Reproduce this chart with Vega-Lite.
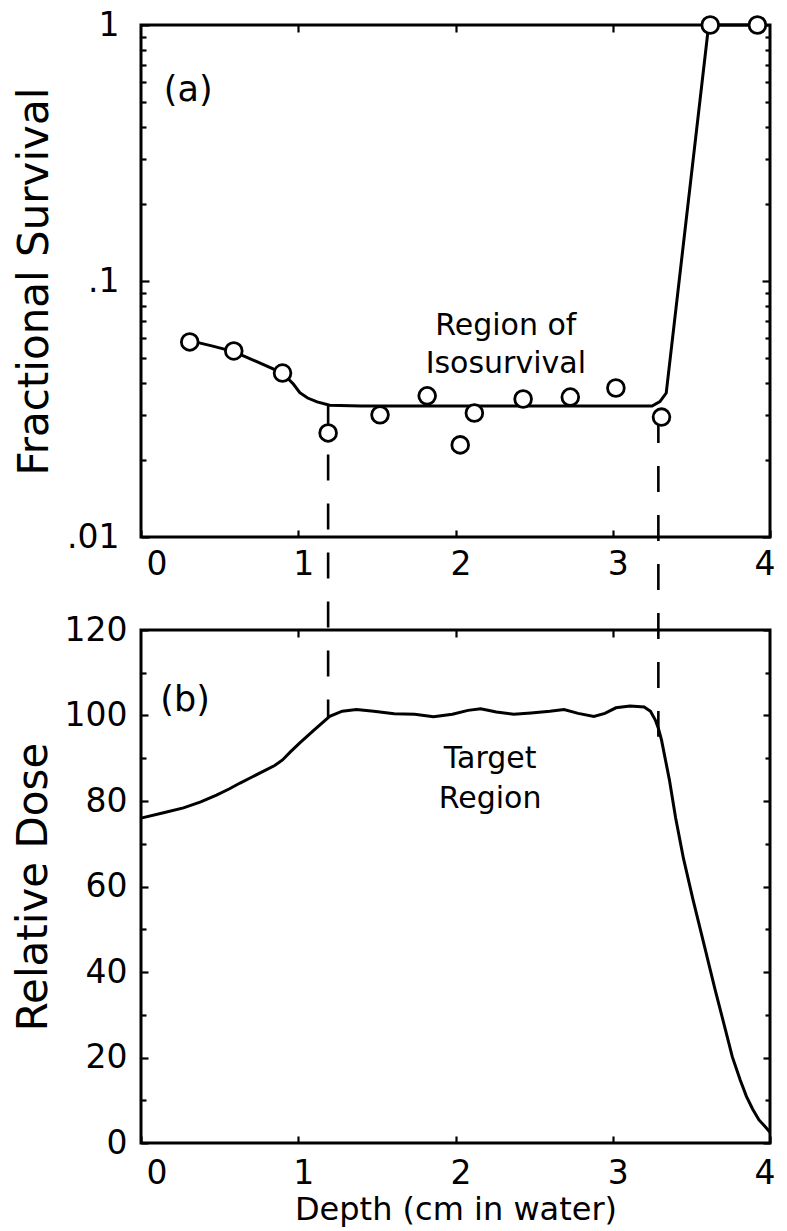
{
  "$schema": "https://vega.github.io/schema/vega-lite/v6.json",
  "background": "white",
  "autosize": {"type": "none"},
  "padding": {"left": 141, "top": 25, "right": 646, "bottom": 1206},
  "config": {
    "view": {"stroke": "black", "strokeWidth": 3},
    "font": "DejaVu Sans",
    "axis": {
      "domain": false, "grid": false, "tickColor": "black", "tickWidth": 2.2,
      "labelColor": "black", "titleColor": "black",
      "labelFont": "DejaVu Sans", "titleFont": "DejaVu Sans",
      "labelFontSize": 33, "titleFontSize": 42, "titleFontWeight": "normal"
    },
    "text": {"font": "DejaVu Sans", "fontSize": 30, "color": "black"}
  },
  "datasets": {
    "fit": [
      {"depth": 0.31, "surv": 0.0585}, {"depth": 0.45, "surv": 0.0558}, {"depth": 0.59, "surv": 0.053},
      {"depth": 0.74, "surv": 0.0483}, {"depth": 0.9, "surv": 0.0437}, {"depth": 0.97, "surv": 0.0395},
      {"depth": 1.01, "surv": 0.0366}, {"depth": 1.06, "surv": 0.0349}, {"depth": 1.12, "surv": 0.0337},
      {"depth": 1.2, "surv": 0.0327}, {"depth": 1.4, "surv": 0.0325}, {"depth": 3.25, "surv": 0.0325},
      {"depth": 3.3, "surv": 0.0338}, {"depth": 3.34, "surv": 0.0365}, {"depth": 3.61, "surv": 1.0},
      {"depth": 3.92, "surv": 1.0}
    ],
    "pts": [
      {"depth": 0.31, "surv": 0.0578}, {"depth": 0.59, "surv": 0.0533}, {"depth": 0.9, "surv": 0.0437},
      {"depth": 1.19, "surv": 0.0255}, {"depth": 1.52, "surv": 0.03}, {"depth": 1.82, "surv": 0.0356},
      {"depth": 2.03, "surv": 0.0229}, {"depth": 2.12, "surv": 0.0305}, {"depth": 2.43, "surv": 0.0346},
      {"depth": 2.73, "surv": 0.0352}, {"depth": 3.02, "surv": 0.0382}, {"depth": 3.31, "surv": 0.0294},
      {"depth": 3.62, "surv": 1.0}, {"depth": 3.92, "surv": 1.0}
    ],
    "guides": [
      {"depth": 1.19, "from": 0.0326, "to": 0.00198},
      {"depth": 3.29, "from": 0.0294, "to": 0.00166}
    ],
    "dose": [
      {"depth": 0.0, "dose": 76.0}, {"depth": 0.15, "dose": 77.3}, {"depth": 0.27, "dose": 78.4},
      {"depth": 0.38, "dose": 79.8}, {"depth": 0.48, "dose": 81.4}, {"depth": 0.56, "dose": 82.8},
      {"depth": 0.63, "dose": 84.2}, {"depth": 0.7, "dose": 85.5}, {"depth": 0.78, "dose": 87.0},
      {"depth": 0.85, "dose": 88.3}, {"depth": 0.9, "dose": 89.6}, {"depth": 0.95, "dose": 91.5},
      {"depth": 1.01, "dose": 93.6}, {"depth": 1.1, "dose": 96.6}, {"depth": 1.2, "dose": 99.8},
      {"depth": 1.28, "dose": 101.0}, {"depth": 1.37, "dose": 101.4}, {"depth": 1.48, "dose": 101.0},
      {"depth": 1.61, "dose": 100.4}, {"depth": 1.74, "dose": 100.3}, {"depth": 1.86, "dose": 99.7},
      {"depth": 1.98, "dose": 100.3}, {"depth": 2.08, "dose": 101.2}, {"depth": 2.16, "dose": 101.6},
      {"depth": 2.26, "dose": 100.8}, {"depth": 2.37, "dose": 100.3}, {"depth": 2.48, "dose": 100.6},
      {"depth": 2.6, "dose": 101.0}, {"depth": 2.69, "dose": 101.4}, {"depth": 2.78, "dose": 100.5},
      {"depth": 2.88, "dose": 99.8}, {"depth": 2.95, "dose": 100.5}, {"depth": 3.02, "dose": 101.8},
      {"depth": 3.11, "dose": 102.2}, {"depth": 3.2, "dose": 102.0}, {"depth": 3.24, "dose": 101.0},
      {"depth": 3.27, "dose": 99.0}, {"depth": 3.29, "dose": 97.0}, {"depth": 3.31, "dose": 94.3},
      {"depth": 3.36, "dose": 85.0}, {"depth": 3.4, "dose": 76.0}, {"depth": 3.45, "dose": 66.5},
      {"depth": 3.51, "dose": 57.0}, {"depth": 3.58, "dose": 46.5}, {"depth": 3.65, "dose": 36.0},
      {"depth": 3.72, "dose": 26.0}, {"depth": 3.76, "dose": 20.2}, {"depth": 3.81, "dose": 14.8},
      {"depth": 3.85, "dose": 10.9}, {"depth": 3.89, "dose": 7.9}, {"depth": 3.93, "dose": 5.4},
      {"depth": 3.97, "dose": 3.8}, {"depth": 4.0, "dose": 2.5}
    ],
    "labA": [{"depth": 0.3, "surv": 0.557, "txt": "(a)"}],
    "labIso": [
      {"depth": 2.32, "surv": 0.0615, "txt": "Region of"},
      {"depth": 2.32, "surv": 0.0437, "txt": "Isosurvival"}
    ],
    "labB": [{"depth": 0.28, "dose": 103.6, "txt": "(b)"}],
    "labT1": [{"depth": 2.22, "dose": 87.7, "txt": "Target"}],
    "labT2": [{"depth": 2.22, "dose": 78.4, "txt": "Region"}]
  },
  "bounds": "flush",
  "spacing": 93,
  "vconcat": [
    {
      "width": 629,
      "height": 512,
      "resolve": {"axis": {"x": "independent", "y": "independent"}},
      "layer": [
        {
          "data": {"name": "guides"},
          "mark": {"type": "rule", "strokeWidth": 2.6, "color": "black", "strokeDash": [26, 23]},
          "encoding": {
            "x": {"field": "depth", "type": "quantitative",
                  "scale": {"domain": [0, 4], "nice": false, "zero": false},
                  "axis": {"orient": "bottom", "values": [0, 1, 2, 3, 4], "tickSize": -7, "labelPadding": 18, "labelOffset": 5, "title": null}},
            "y": {"field": "from", "type": "quantitative",
                  "scale": {"type": "log", "domain": [0.01, 1], "nice": false},
                  "axis": {"orient": "left", "values": [0.01, 0.1, 1], "tickSize": -8, "labelPadding": 30,
                           "labelExpr": "datum.value >= 0.5 ? '1' : datum.value >= 0.05 ? '.1' : '.01'",
                           "title": "Fractional Survival", "titlePadding": 10}},
            "y2": {"field": "to"}
          }
        },
        {
          "data": {"name": "fit"},
          "mark": {"type": "line", "strokeWidth": 3, "color": "black"},
          "encoding": {
            "x": {"field": "depth", "type": "quantitative",
                  "axis": {"orient": "top", "values": [1, 2, 3], "tickSize": -7, "labels": false, "title": null}},
            "y": {"field": "surv", "type": "quantitative",
                  "axis": {"orient": "right", "values": [0.01, 0.1, 1], "tickSize": -8, "labels": false, "title": null}}
          }
        },
        {
          "data": {"name": "pts"},
          "mark": {"type": "point", "shape": "circle", "filled": false, "fill": "white", "fillOpacity": 1, "stroke": "black", "strokeWidth": 2.8, "size": 280, "opacity": 1},
          "encoding": {
            "x": {"field": "depth", "type": "quantitative", "axis": null},
            "y": {"field": "surv", "type": "quantitative",
                  "axis": {"orient": "left", "values": [0.02, 0.03, 0.04, 0.05, 0.06, 0.07, 0.08, 0.09, 0.2, 0.3, 0.4, 0.5, 0.6, 0.7, 0.8, 0.9], "tickSize": -5, "labels": false, "title": null}}
          }
        },
        {
          "data": {"name": "labA"},
          "mark": {"type": "text", "fontSize": 35, "align": "center", "baseline": "middle"},
          "encoding": {
            "x": {"field": "depth", "type": "quantitative", "axis": null},
            "y": {"field": "surv", "type": "quantitative",
                  "axis": {"orient": "right", "values": [0.02, 0.03, 0.04, 0.05, 0.06, 0.07, 0.08, 0.09, 0.2, 0.3, 0.4, 0.5, 0.6, 0.7, 0.8, 0.9], "tickSize": -5, "labels": false, "title": null}},
            "text": {"field": "txt"}
          }
        },
        {
          "data": {"name": "labIso"},
          "mark": {"type": "text", "fontSize": 30, "align": "center", "baseline": "alphabetic"},
          "encoding": {
            "x": {"field": "depth", "type": "quantitative", "axis": null},
            "y": {"field": "surv", "type": "quantitative", "axis": null},
            "text": {"field": "txt"}
          }
        }
      ]
    },
    {
      "width": 629,
      "height": 513,
      "resolve": {"axis": {"x": "independent", "y": "independent"}},
      "layer": [
        {
          "data": {"name": "dose"},
          "mark": {"type": "line", "strokeWidth": 3, "color": "black"},
          "encoding": {
            "x": {"field": "depth", "type": "quantitative",
                  "scale": {"domain": [0, 4], "nice": false, "zero": false},
                  "axis": {"orient": "bottom", "values": [0, 1, 2, 3, 4], "tickSize": -7, "labelPadding": 21, "labelOffset": 5,
                           "title": "Depth (cm in water)", "titleFontSize": 32, "titlePadding": 4}},
            "y": {"field": "dose", "type": "quantitative",
                  "scale": {"domain": [0, 120], "nice": false},
                  "axis": {"orient": "left", "values": [0, 20, 40, 60, 80, 100, 120], "tickSize": -7, "labelPadding": 21,
                           "title": "Relative Dose", "titlePadding": 9}}
          }
        },
        {
          "data": {"name": "labB"},
          "mark": {"type": "text", "fontSize": 35, "align": "center", "baseline": "middle"},
          "encoding": {
            "x": {"field": "depth", "type": "quantitative",
                  "axis": {"orient": "top", "values": [1, 2, 3], "tickSize": -7, "labels": false, "title": null}},
            "y": {"field": "dose", "type": "quantitative",
                  "axis": {"orient": "left", "values": [10, 30, 50, 70, 90, 110], "tickSize": -5, "labels": false, "title": null}},
            "text": {"field": "txt"}
          }
        },
        {
          "data": {"name": "labT1"},
          "mark": {"type": "text", "fontSize": 30, "align": "center", "baseline": "alphabetic"},
          "encoding": {
            "x": {"field": "depth", "type": "quantitative", "axis": null},
            "y": {"field": "dose", "type": "quantitative",
                  "axis": {"orient": "right", "values": [0, 20, 40, 60, 80, 100, 120], "tickSize": -7, "labels": false, "title": null}},
            "text": {"field": "txt"}
          }
        },
        {
          "data": {"name": "labT2"},
          "mark": {"type": "text", "fontSize": 30, "align": "center", "baseline": "alphabetic"},
          "encoding": {
            "x": {"field": "depth", "type": "quantitative", "axis": null},
            "y": {"field": "dose", "type": "quantitative",
                  "axis": {"orient": "right", "values": [10, 30, 50, 70, 90, 110], "tickSize": -5, "labels": false, "title": null}},
            "text": {"field": "txt"}
          }
        }
      ]
    }
  ]
}
